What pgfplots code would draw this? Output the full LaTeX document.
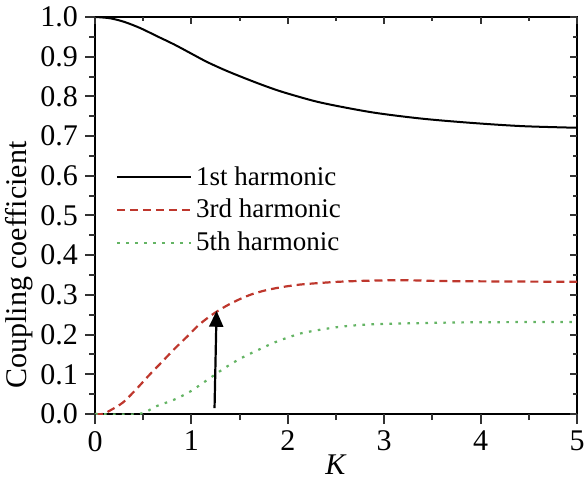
\documentclass[border=0pt]{standalone}
\usepackage{fontspec}
\setmainfont{Liberation Serif}
\usepackage{pgfplots}
\pgfplotsset{compat=1.18}
\usetikzlibrary{arrows.meta}
\definecolor{h3red}{RGB}{190,55,45}
\definecolor{h5green}{RGB}{100,180,100}
\definecolor{axgray}{RGB}{50,50,50}

\pgfplotstableread{
K     c
0.00  1.000
0.15  0.997
0.30  0.988
0.47  0.972
0.64  0.952
0.82  0.931
0.99  0.909
1.16  0.887
1.34  0.867
1.51  0.850
1.69  0.833
1.86  0.818
2.03  0.805
2.35  0.784
2.87  0.760
3.39  0.744
3.92  0.733
4.44  0.725
5.00  0.721
}\firstharm

\pgfplotstableread{
K     c
0.00  0.000
0.08  0.000
0.15  0.008
0.29  0.029
0.43  0.063
0.57  0.100
0.69  0.130
0.82  0.163
0.96  0.196
1.08  0.225
1.22  0.251
1.36  0.272
1.49  0.288
1.62  0.301
1.76  0.311
1.90  0.318
2.03  0.323
2.17  0.327
2.52  0.333
2.87  0.336
3.22  0.337
3.57  0.335
4.09  0.334
5.00  0.333
}\thirdharm

\pgfplotstableread{
K     c
0.00  0.000
0.45  0.000
0.64  0.020
0.82  0.036
0.99  0.057
1.16  0.085
1.34  0.115
1.51  0.140
1.69  0.161
1.86  0.180
2.03  0.195
2.17  0.205
2.52  0.219
2.87  0.226
3.39  0.229
3.92  0.231
5.00  0.232
}\fifthharm

\begin{document}
\begin{tikzpicture}
\begin{axis}[
    scale only axis,
    width=241pt, height=198.5pt,
    xmin=0, xmax=5, ymin=0, ymax=1,
    xtick={0,1,2,3,4,5},
    ytick={0,0.1,0.2,0.3,0.4,0.5,0.6,0.7,0.8,0.9,1.0},
    minor x tick num=1,
    minor y tick num=1,
    axis line style={line width=0.9pt},
    major tick style={axgray, line width=1pt},
    minor tick style={axgray, line width=1pt},
    tick align=outside,
    tick pos=left,
    major tick length=5pt,
    minor tick length=3pt,
    xlabel={\textit{K}},
    ylabel={Coupling coefficient},
    xlabel style={font=\fontsize{15}{17}\selectfont, yshift=5pt},
    ylabel style={font=\fontsize{15}{17}\selectfont, yshift=-3pt,
        at={(ticklabel cs:0.375)}},
    ticklabel style={font=\fontsize{15}{17}\selectfont},
    /pgf/number format/assume math mode=true,
    yticklabel style={/pgf/number format/.cd, fixed, fixed zerofill, precision=1},
    xticklabel style={/pgf/number format/.cd, fixed, precision=0},
    legend style={draw=none, fill=none, at={(0.03,0.645)}, anchor=north west,
        font=\fontsize{13.5}{15}\selectfont, row sep=1.5pt},
    legend cell align=left,
    legend image code/.code={\draw[#1] (0pt,0pt) -- (37pt,0pt);},
]
\addplot[black, line width=1pt, smooth, tension=0.5] table[x=K, y=c] {\firstharm};
\addlegendentry{1st harmonic}
\addplot[h3red, line width=1.1pt, smooth, tension=0.5, dash pattern=on 4pt off 2.5pt] table[x=K, y=c] {\thirdharm};
\addlegendentry{3rd harmonic}
\addplot[h5green, line width=1.1pt, smooth, tension=0.5, dash pattern=on 1.3pt off 3.2pt] table[x=K, y=c] {\fifthharm};
\addlegendentry{5th harmonic}
\draw[-{Triangle[length=8pt, width=7pt]}, line width=1.1pt, black]
    (axis cs:1.24,0.015) -- (axis cs:1.261,0.26);
\end{axis}
% tick marks: outward on left/bottom, inward on top/right
\begin{scope}[axgray, line width=1pt]
\foreach \i in {0,...,5} {
    \draw ([xshift=\i*48.2pt]current axis.south west) -- ++(0,-5pt);
    \draw ([xshift=\i*48.2pt]current axis.north west) -- ++(0,-3.5pt);
}
\foreach \i in {0,...,4} {
    \draw ([xshift=\i*48.2pt+24.1pt]current axis.south west) -- ++(0,-3pt);
    \draw ([xshift=\i*48.2pt+24.1pt]current axis.north west) -- ++(0,-2pt);
}
\foreach \i in {0,...,10} {
    \draw ([yshift=\i*19.85pt]current axis.south west) -- ++(-5pt,0);
    \draw ([yshift=\i*19.85pt]current axis.south east) -- ++(-3.5pt,0);
}
\foreach \i in {0,...,9} {
    \draw ([yshift=\i*19.85pt+9.925pt]current axis.south west) -- ++(-3pt,0);
    \draw ([yshift=\i*19.85pt+9.925pt]current axis.south east) -- ++(-2pt,0);
}
\end{scope}
\pgfresetboundingbox
\path ([shift={(-47.5pt,-33.5pt)}]current axis.south west)
    rectangle ([shift={(4pt,8.5pt)}]current axis.north east);
\end{tikzpicture}
\end{document}
